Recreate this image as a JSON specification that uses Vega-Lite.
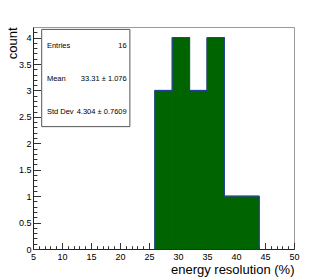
{
  "$schema": "https://vega.github.io/schema/vega-lite/v6.json",
  "autosize": {"type": "none"},
  "padding": {"left": 33, "top": 27, "right": 33, "bottom": 29},
  "width": 261,
  "height": 222,
  "background": "white",
  "config": {
    "font": "Liberation Sans",
    "view": {"stroke": "#9a9a9a", "strokeWidth": 1},
    "axis": {"grid": false, "labelFont": "Liberation Sans", "titleFont": "Liberation Sans", "labelColor": "#000", "titleColor": "#000", "titleFontWeight": "normal", "domainColor": "#222", "tickColor": "#333"}
  },
  "datasets": {
    "hist": [
      {"lo": 26, "hi": 29, "count": 3},
      {"lo": 29, "hi": 32, "count": 4},
      {"lo": 32, "hi": 35, "count": 3},
      {"lo": 35, "hi": 38, "count": 4},
      {"lo": 38, "hi": 41, "count": 1},
      {"lo": 41, "hi": 44, "count": 1}
    ],
    "outline": [
      {"i": 0, "edge": 26, "count": 0},
      {"i": 1, "edge": 26, "count": 3},
      {"i": 2, "edge": 29, "count": 4},
      {"i": 3, "edge": 32, "count": 3},
      {"i": 4, "edge": 35, "count": 4},
      {"i": 5, "edge": 38, "count": 1},
      {"i": 6, "edge": 41, "count": 1},
      {"i": 7, "edge": 44, "count": 1},
      {"i": 8, "edge": 44, "count": 0}
    ],
    "stats": [
      {"stat": "Entries", "val": "16"},
      {"stat": "Mean", "val": "33.31 ±  1.076"},
      {"stat": "Std Dev", "val": "4.304 ± 0.7609"}
    ]
  },
  "resolve": {"scale": {"y": "independent"}, "axis": {"x": "independent", "y": "independent"}},
  "layer": [
    {
      "data": {"name": "hist"},
      "mark": {"type": "bar", "fill": "#006400", "stroke": "#006400", "strokeWidth": 1},
      "encoding": {
        "x": {"field": "lo", "type": "quantitative", "scale": {"domain": [5, 50], "nice": false, "zero": false},
          "axis": {"orient": "bottom", "values": [5,10,15,20,25,30,35,40,45,50], "tickSize": -6.5, "labelPadding": 9.5, "labelFontSize": 9, "labelFlush": false, "labelOverlap": false,
            "title": "energy resolution (%)", "titleFontSize": 13, "titleAnchor": "end", "titleAlign": "right", "titleBaseline": "alphabetic", "titleX": 261, "titleY": 24}},
        "x2": {"field": "hi"},
        "y": {"field": "count", "type": "quantitative", "scale": {"domain": [0, 4.2], "nice": false},
          "axis": {"orient": "left", "values": [0,0.5,1,1.5,2,2.5,3,3.5,4], "format": "~g", "tickSize": -7.5, "labelPadding": 9.5, "labelFontSize": 9, "labelFlush": false, "labelOverlap": false,
            "title": "count", "titleFontSize": 13, "titleAngle": -90, "titleAnchor": "end", "titleAlign": "right", "titleBaseline": "middle", "titleX": -21, "titleY": 0}},
        "y2": {"datum": 0}
      }
    },
    {
      "data": {"name": "outline"},
      "mark": {"type": "line", "interpolate": "step-after", "color": "#2a3fa6", "strokeWidth": 1},
      "encoding": {
        "x": {"field": "edge", "type": "quantitative", "scale": {"domain": [5, 50], "nice": false, "zero": false},
          "axis": {"orient": "bottom", "values": [6,7,8,9,11,12,13,14,16,17,18,19,21,22,23,24,26,27,28,29,31,32,33,34,36,37,38,39,41,42,43,44,46,47,48,49], "tickSize": -3.3, "labels": false, "domain": false, "title": null}},
        "y": {"field": "count", "type": "quantitative", "scale": {"domain": [0, 4.2], "nice": false},
          "axis": {"orient": "left", "values": [0.1,0.2,0.3,0.4,0.6,0.7,0.8,0.9,1.1,1.2,1.3,1.4,1.6,1.7,1.8,1.9,2.1,2.2,2.3,2.4,2.6,2.7,2.8,2.9,3.1,3.2,3.3,3.4,3.6,3.7,3.8,3.9,4.1], "tickSize": -3.9, "labels": false, "domain": false, "title": null}},
        "order": {"field": "i", "type": "quantitative"}
      }
    },
    {
      "data": {"values": [{}]},
      "mark": {"type": "rect", "fill": "white", "stroke": "#555", "strokeWidth": 1},
      "encoding": {
        "x": {"datum": 6.5, "type": "quantitative", "scale": {"domain": [5, 50], "nice": false, "zero": false}, "axis": null},
        "x2": {"datum": 21.7},
        "y": {"datum": 4.155, "type": "quantitative", "scale": {"domain": [0, 4.2], "nice": false}, "axis": null},
        "y2": {"datum": 2.315}
      }
    },
    {
      "data": {"name": "stats"},
      "mark": {"type": "text", "align": "left", "baseline": "middle", "fontSize": 7.5, "font": "Liberation Sans", "color": "#000"},
      "encoding": {
        "x": {"datum": 7.4, "type": "quantitative", "scale": {"domain": [5, 50], "nice": false, "zero": false}, "axis": null},
        "y": {"field": "stat", "type": "nominal", "scale": {"type": "point", "domain": ["Entries", "Mean", "Std Dev"], "range": [18.7, 84.7], "padding": 0}, "axis": null},
        "text": {"field": "stat"}
      }
    },
    {
      "data": {"name": "stats"},
      "mark": {"type": "text", "align": "right", "baseline": "middle", "fontSize": 7.5, "font": "Liberation Sans", "color": "#000"},
      "encoding": {
        "x": {"datum": 21.15, "type": "quantitative", "scale": {"domain": [5, 50], "nice": false, "zero": false}, "axis": null},
        "y": {"field": "stat", "type": "nominal", "scale": {"type": "point", "domain": ["Entries", "Mean", "Std Dev"], "range": [18.7, 84.7], "padding": 0}, "axis": null},
        "text": {"field": "val"}
      }
    }
  ]
}
